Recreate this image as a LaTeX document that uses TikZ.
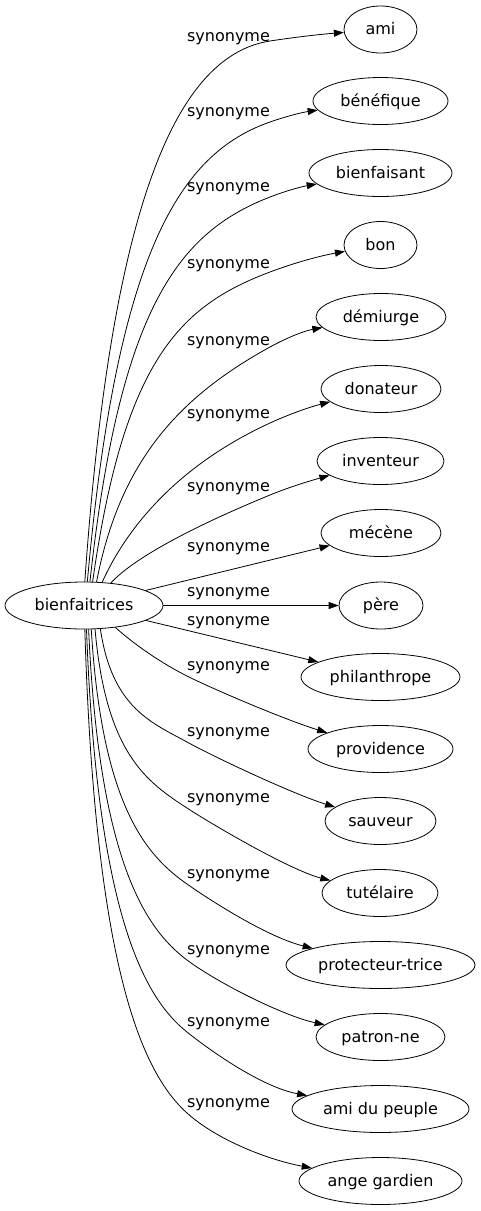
\documentclass[tikz,border=0pt]{standalone}
\usepackage{fontspec}
\setmainfont{DejaVu Sans}
\usetikzlibrary{shapes.geometric,arrows.meta,calc}
\begin{document}
\begin{tikzpicture}[x=1pt,y=-1pt,
  ell/.style={ellipse,draw,line width=0.8pt,inner sep=0pt,minimum height=47pt,
    font=\fontsize{16pt}{19pt}\selectfont,text height=13pt,text depth=3pt},
  lbl/.style={inner sep=0pt,font=\fontsize{16pt}{19pt}\selectfont,text height=13pt,text depth=3pt},
  edge/.style={draw,line width=0.8pt,-{Triangle[length=10pt,width=7pt]}}]
\useasboundingbox (0,0) rectangle (480,1211);
% nodes
\node[ell,minimum width=158pt] (b) at (84,605.5) {bienfaitrices};
\node[ell,minimum width=73pt]  (t1)  at (380.5,29.5) {ami};
\node[ell,minimum width=135pt] (t2)  at (380.5,101) {bénéfique};
\node[ell,minimum width=143pt] (t3)  at (380.5,173) {bienfaisant};
\node[ell,minimum width=73pt]  (t4)  at (380.5,245) {bon};
\node[ell,minimum width=130pt] (t5)  at (381,317) {démiurge};
\node[ell,minimum width=120pt] (t6)  at (381,389) {donateur};
\node[ell,minimum width=127pt] (t7)  at (380.5,461) {inventeur};
\node[ell,minimum width=120pt] (t8)  at (381,533) {mécène};
\node[ell,minimum width=84pt]  (t9)  at (381,605.5) {père};
\node[ell,minimum width=159pt] (t10) at (380.5,677) {philanthrope};
\node[ell,minimum width=145pt] (t11) at (380.5,749) {providence};
\node[ell,minimum width=111pt] (t12) at (380.5,821) {sauveur};
\node[ell,minimum width=116pt] (t13) at (380,893) {tutélaire};
\node[ell,minimum width=189pt] (t14) at (380.5,965) {protecteur-trice};
\node[ell,minimum width=129pt] (t15) at (380.5,1037) {patron-ne};
\node[ell,minimum width=177pt] (t16) at (380.5,1109) {ami du peuple};
\node[ell,minimum width=163pt] (t17) at (380.5,1181) {ange gardien};
% labels
\foreach \i/\y in {1/39,2/114,3/189,4/266,5/343,6/416,7/489,8/549,9/594,10/623,11/668,12/734,13/800,14/876,15/952,16/1024,17/1105}
  \node[lbl] (l\i) at (228.5,\y-2.5) {synonyme};
% upper edges
\draw[edge] (b.88) .. controls (112,192) and (180,55) .. (270,41) .. controls (294.7,37.2) and (319.4,34.4) .. (t1);
\draw[edge] (b.82) .. controls (117,251) and (180,153.5) .. (270,122) .. controls (286,116.4) and (301.9,112.4) .. (t2);
\draw[edge] (b.76) .. controls (120,305) and (180,232) .. (270,197) .. controls (285.7,190.9) and (301.3,186.7) .. (t3);
\draw[edge] (b.70) .. controls (124,360) and (180,305.8) .. (270,272) .. controls (295.2,262.5) and (320.3,255.8) .. (t4);
\draw[edge] (b.62) .. controls (120,460) and (180,396.5) .. (270,347) .. controls (287,337.7) and (304,330.9) .. (t5);
\draw[edge] (b.52) .. controls (128,525) and (180,464.4) .. (270,423) .. controls (290.7,413.5) and (311.3,406.6) .. (t6);
\draw[edge] (b.40) .. controls (130,562) and (180,532) .. (270,495) .. controls (291,486.4) and (312,480.3) .. (t7);
\draw[edge] (b) -- (t8);
\draw[edge] (b) -- (t9);
\draw[edge] (b) -- (t10);
% lower edges
\draw[edge] (b.-35) .. controls (135,645) and (162,663.5) .. (187,676) .. controls (217,691) and (288,720.75) .. (t11);
\draw[edge] (b.-55) .. controls (112,708) and (152,722.75) .. (187,742) .. controls (217,758.5) and (295,794.75) .. (t12);
\draw[edge] (b.-65) .. controls (106,754) and (147,782) .. (187,808) .. controls (217,827.5) and (292,870.75) .. (t13);
\draw[edge] (b.-73) .. controls (102,807) and (147,856) .. (187,884) .. controls (217,905) and (270,937.75) .. (t14);
\draw[edge] (b.-79) .. controls (99,860) and (145,928.5) .. (187,960) .. controls (217,982.5) and (283,1015.75) .. (t15);
\draw[edge] (b.-84) .. controls (97,911) and (143,997) .. (187,1032) .. controls (217,1056) and (265,1087.75) .. (t16);
\draw[edge] (b.-88) .. controls (95,968) and (142,1072.5) .. (187,1113) .. controls (217,1140) and (268,1159.75) .. (t17);
\end{tikzpicture}
\end{document}
